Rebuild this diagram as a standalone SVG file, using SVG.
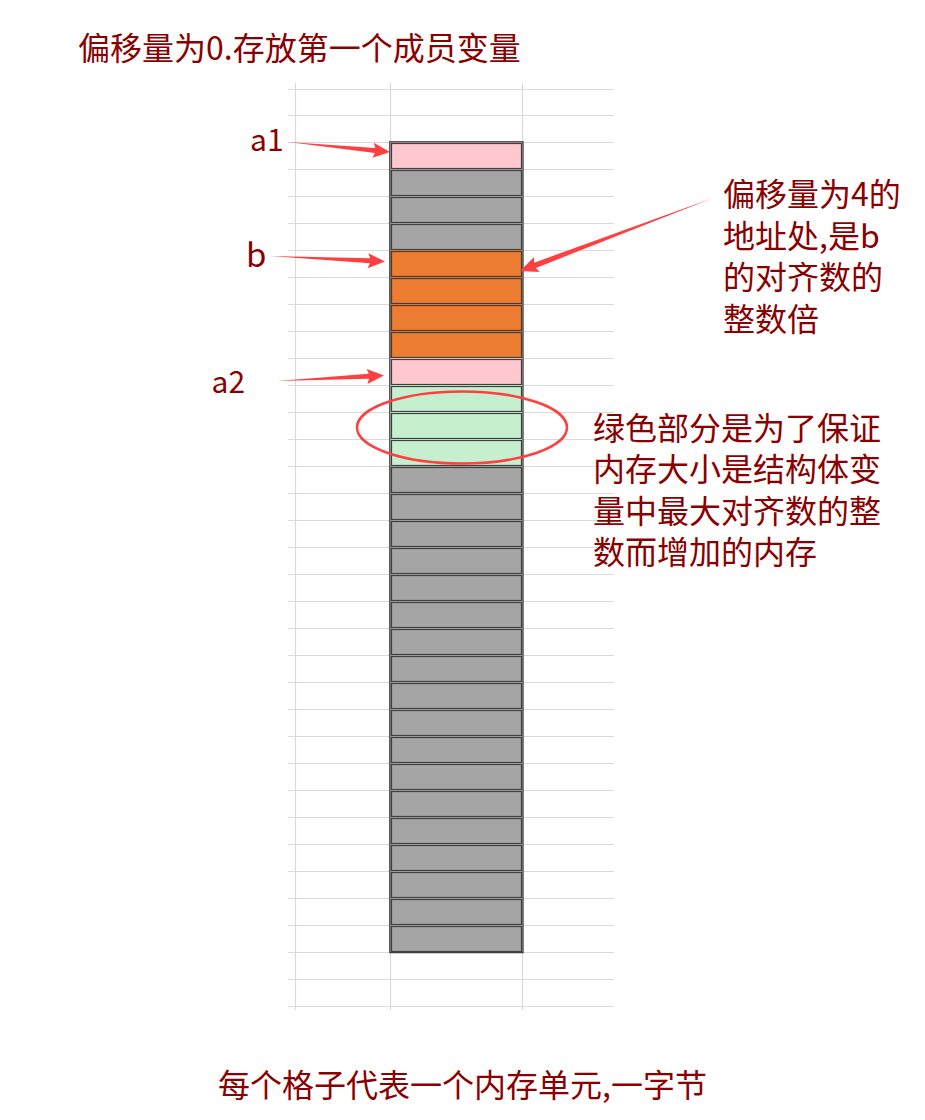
<svg xmlns="http://www.w3.org/2000/svg" width="925" height="1120" viewBox="0 0 925 1120">
<style>
.grid line{stroke:#DADADA;stroke-width:1.2}
.t{font-family:"Noto Sans CJK SC","Noto Sans",sans-serif;font-size:32px;fill:#8B0000}
.lbl{font-family:"Noto Sans CJK SC","Noto Sans",sans-serif;font-size:30px;fill:#8B0000}
.bg{stroke:none}
.in{fill:none;stroke:#3F3F3F;stroke-width:1.2}
.pink{fill:#FFC7CE}.gray{fill:#A5A5A5}.orange{fill:#ED7D31}.green{fill:#C6EFCE}
.arr{fill:#FF4040}
</style>
<rect width="925" height="1120" fill="#FFFFFF"/>
<g id="grid" class="grid">
<line x1="295.5" y1="83" x2="295.5" y2="1010"/>
<line x1="390.5" y1="83" x2="390.5" y2="1010"/>
<line x1="522.5" y1="83" x2="522.5" y2="1010"/>
<line x1="288" y1="89.5" x2="614" y2="89.5"/>
<line x1="288" y1="115.5" x2="614" y2="115.5"/>
<line x1="288" y1="142.5" x2="614" y2="142.5"/>
<line x1="288" y1="169.5" x2="614" y2="169.5"/>
<line x1="288" y1="196.5" x2="614" y2="196.5"/>
<line x1="288" y1="223.5" x2="614" y2="223.5"/>
<line x1="288" y1="250.5" x2="614" y2="250.5"/>
<line x1="288" y1="277.5" x2="614" y2="277.5"/>
<line x1="288" y1="304.5" x2="614" y2="304.5"/>
<line x1="288" y1="331.5" x2="614" y2="331.5"/>
<line x1="288" y1="358.5" x2="614" y2="358.5"/>
<line x1="288" y1="385.5" x2="614" y2="385.5"/>
<line x1="288" y1="412.5" x2="614" y2="412.5"/>
<line x1="288" y1="439.5" x2="614" y2="439.5"/>
<line x1="288" y1="466.5" x2="614" y2="466.5"/>
<line x1="288" y1="493.5" x2="614" y2="493.5"/>
<line x1="288" y1="520.5" x2="614" y2="520.5"/>
<line x1="288" y1="547.5" x2="614" y2="547.5"/>
<line x1="288" y1="574.5" x2="614" y2="574.5"/>
<line x1="288" y1="601.5" x2="614" y2="601.5"/>
<line x1="288" y1="628.5" x2="614" y2="628.5"/>
<line x1="288" y1="655.5" x2="614" y2="655.5"/>
<line x1="288" y1="682.5" x2="614" y2="682.5"/>
<line x1="288" y1="709.5" x2="614" y2="709.5"/>
<line x1="288" y1="736.5" x2="614" y2="736.5"/>
<line x1="288" y1="763.5" x2="614" y2="763.5"/>
<line x1="288" y1="790.5" x2="614" y2="790.5"/>
<line x1="288" y1="817.5" x2="614" y2="817.5"/>
<line x1="288" y1="844.5" x2="614" y2="844.5"/>
<line x1="288" y1="871.5" x2="614" y2="871.5"/>
<line x1="288" y1="898.5" x2="614" y2="898.5"/>
<line x1="288" y1="925.5" x2="614" y2="925.5"/>
<line x1="288" y1="952.5" x2="614" y2="952.5"/>
<line x1="288" y1="979.5" x2="614" y2="979.5"/>
<line x1="288" y1="1006.5" x2="614" y2="1006.5"/>
</g>
<g id="cells">
<g id="cell-a1" transform="translate(0,142)"><rect class="bg pink" x="390" y="0" width="132.5" height="27"/><rect class="in" x="391.5" y="1.5" width="130" height="25"/></g>
<g id="cell-1" transform="translate(0,169)"><rect class="bg gray" x="390" y="0" width="132.5" height="27"/><rect class="in" x="391.5" y="1.5" width="130" height="25"/></g>
<g id="cell-2" transform="translate(0,196)"><rect class="bg gray" x="390" y="0" width="132.5" height="27"/><rect class="in" x="391.5" y="1.5" width="130" height="25"/></g>
<g id="cell-3" transform="translate(0,223)"><rect class="bg gray" x="390" y="0" width="132.5" height="27"/><rect class="in" x="391.5" y="1.5" width="130" height="25"/></g>
<g id="cell-b0" transform="translate(0,250)"><rect class="bg orange" x="390" y="0" width="132.5" height="27"/><rect class="in" x="391.5" y="1.5" width="130" height="25"/></g>
<g id="cell-b1" transform="translate(0,277)"><rect class="bg orange" x="390" y="0" width="132.5" height="27"/><rect class="in" x="391.5" y="1.5" width="130" height="25"/></g>
<g id="cell-b2" transform="translate(0,304)"><rect class="bg orange" x="390" y="0" width="132.5" height="27"/><rect class="in" x="391.5" y="1.5" width="130" height="25"/></g>
<g id="cell-b3" transform="translate(0,331)"><rect class="bg orange" x="390" y="0" width="132.5" height="27"/><rect class="in" x="391.5" y="1.5" width="130" height="25"/></g>
<g id="cell-a2" transform="translate(0,358)"><rect class="bg pink" x="390" y="0" width="132.5" height="27"/><rect class="in" x="391.5" y="1.5" width="130" height="25"/></g>
<g id="cell-p1" transform="translate(0,385)"><rect class="bg green" x="390" y="0" width="132.5" height="27"/><rect class="in" x="391.5" y="1.5" width="130" height="25"/></g>
<g id="cell-p2" transform="translate(0,412)"><rect class="bg green" x="390" y="0" width="132.5" height="27"/><rect class="in" x="391.5" y="1.5" width="130" height="25"/></g>
<g id="cell-p3" transform="translate(0,439)"><rect class="bg green" x="390" y="0" width="132.5" height="27"/><rect class="in" x="391.5" y="1.5" width="130" height="25"/></g>
<g id="cell-12" transform="translate(0,466)"><rect class="bg gray" x="390" y="0" width="132.5" height="27"/><rect class="in" x="391.5" y="1.5" width="130" height="25"/></g>
<g id="cell-13" transform="translate(0,493)"><rect class="bg gray" x="390" y="0" width="132.5" height="27"/><rect class="in" x="391.5" y="1.5" width="130" height="25"/></g>
<g id="cell-14" transform="translate(0,520)"><rect class="bg gray" x="390" y="0" width="132.5" height="27"/><rect class="in" x="391.5" y="1.5" width="130" height="25"/></g>
<g id="cell-15" transform="translate(0,547)"><rect class="bg gray" x="390" y="0" width="132.5" height="27"/><rect class="in" x="391.5" y="1.5" width="130" height="25"/></g>
<g id="cell-16" transform="translate(0,574)"><rect class="bg gray" x="390" y="0" width="132.5" height="27"/><rect class="in" x="391.5" y="1.5" width="130" height="25"/></g>
<g id="cell-17" transform="translate(0,601)"><rect class="bg gray" x="390" y="0" width="132.5" height="27"/><rect class="in" x="391.5" y="1.5" width="130" height="25"/></g>
<g id="cell-18" transform="translate(0,628)"><rect class="bg gray" x="390" y="0" width="132.5" height="27"/><rect class="in" x="391.5" y="1.5" width="130" height="25"/></g>
<g id="cell-19" transform="translate(0,655)"><rect class="bg gray" x="390" y="0" width="132.5" height="27"/><rect class="in" x="391.5" y="1.5" width="130" height="25"/></g>
<g id="cell-20" transform="translate(0,682)"><rect class="bg gray" x="390" y="0" width="132.5" height="27"/><rect class="in" x="391.5" y="1.5" width="130" height="25"/></g>
<g id="cell-21" transform="translate(0,709)"><rect class="bg gray" x="390" y="0" width="132.5" height="27"/><rect class="in" x="391.5" y="1.5" width="130" height="25"/></g>
<g id="cell-22" transform="translate(0,736)"><rect class="bg gray" x="390" y="0" width="132.5" height="27"/><rect class="in" x="391.5" y="1.5" width="130" height="25"/></g>
<g id="cell-23" transform="translate(0,763)"><rect class="bg gray" x="390" y="0" width="132.5" height="27"/><rect class="in" x="391.5" y="1.5" width="130" height="25"/></g>
<g id="cell-24" transform="translate(0,790)"><rect class="bg gray" x="390" y="0" width="132.5" height="27"/><rect class="in" x="391.5" y="1.5" width="130" height="25"/></g>
<g id="cell-25" transform="translate(0,817)"><rect class="bg gray" x="390" y="0" width="132.5" height="27"/><rect class="in" x="391.5" y="1.5" width="130" height="25"/></g>
<g id="cell-26" transform="translate(0,844)"><rect class="bg gray" x="390" y="0" width="132.5" height="27"/><rect class="in" x="391.5" y="1.5" width="130" height="25"/></g>
<g id="cell-27" transform="translate(0,871)"><rect class="bg gray" x="390" y="0" width="132.5" height="27"/><rect class="in" x="391.5" y="1.5" width="130" height="25"/></g>
<g id="cell-28" transform="translate(0,898)"><rect class="bg gray" x="390" y="0" width="132.5" height="27"/><rect class="in" x="391.5" y="1.5" width="130" height="25"/></g>
<g id="cell-29" transform="translate(0,925)"><rect class="bg gray" x="390" y="0" width="132.5" height="27"/><rect class="in" x="391.5" y="1.5" width="130" height="25"/></g>
<rect id="column-border" x="389.8" y="141.8" width="133.2" height="810.8" fill="none" stroke="#3F3F3F" stroke-width="1.3"/>
</g>
<g id="labels">
<text class="t" x="78" y="59.5">偏移量为0.存放第一个成员变量</text>
<text class="lbl" x="250" y="151">a1</text>
<text class="lbl" x="246" y="266.5" style="font-size:33px">b</text>
<text class="lbl" x="211.5" y="393">a2</text>
<g id="note-b">
<text class="t" x="723" y="206">偏移量为4的</text>
<text class="t" x="723" y="247.5">地址处,是b</text>
<text class="t" x="723" y="289">的对齐数的</text>
<text class="t" x="723" y="330.5">整数倍</text>
</g>
<g id="note-pad">
<text class="t" x="593" y="439.5">绿色部分是为了保证</text>
<text class="t" x="593" y="481">内存大小是结构体变</text>
<text class="t" x="593" y="522.5">量中最大对齐数的整</text>
<text class="t" x="593" y="564">数而增加的内存</text>
</g>
<text class="t" x="218" y="1097">每个格子代表一个内存单元,一字节</text>
</g>
<g id="connectors">
<polygon class="arr" points="288,142 375.3,148 373.8,142.8 390,152 372.4,157.8 374.9,153"/>
<polygon class="arr" points="270,256 370.1,258.3 368.4,253.2 385,261.5 367.6,268.2 369.9,263.3"/>
<polygon class="arr" points="277,381 368.9,373.8 366.6,368.9 384,375.5 367.4,383.9 369.1,378.8"/>
<polygon class="arr" points="713,198 534,262.7 534.1,257.1 520,271 539.7,272.1 536,267.9"/>
<ellipse cx="462" cy="427.5" rx="105" ry="36" fill="none" stroke="#FF4040" stroke-width="2.5"/>
</g>
</svg>
